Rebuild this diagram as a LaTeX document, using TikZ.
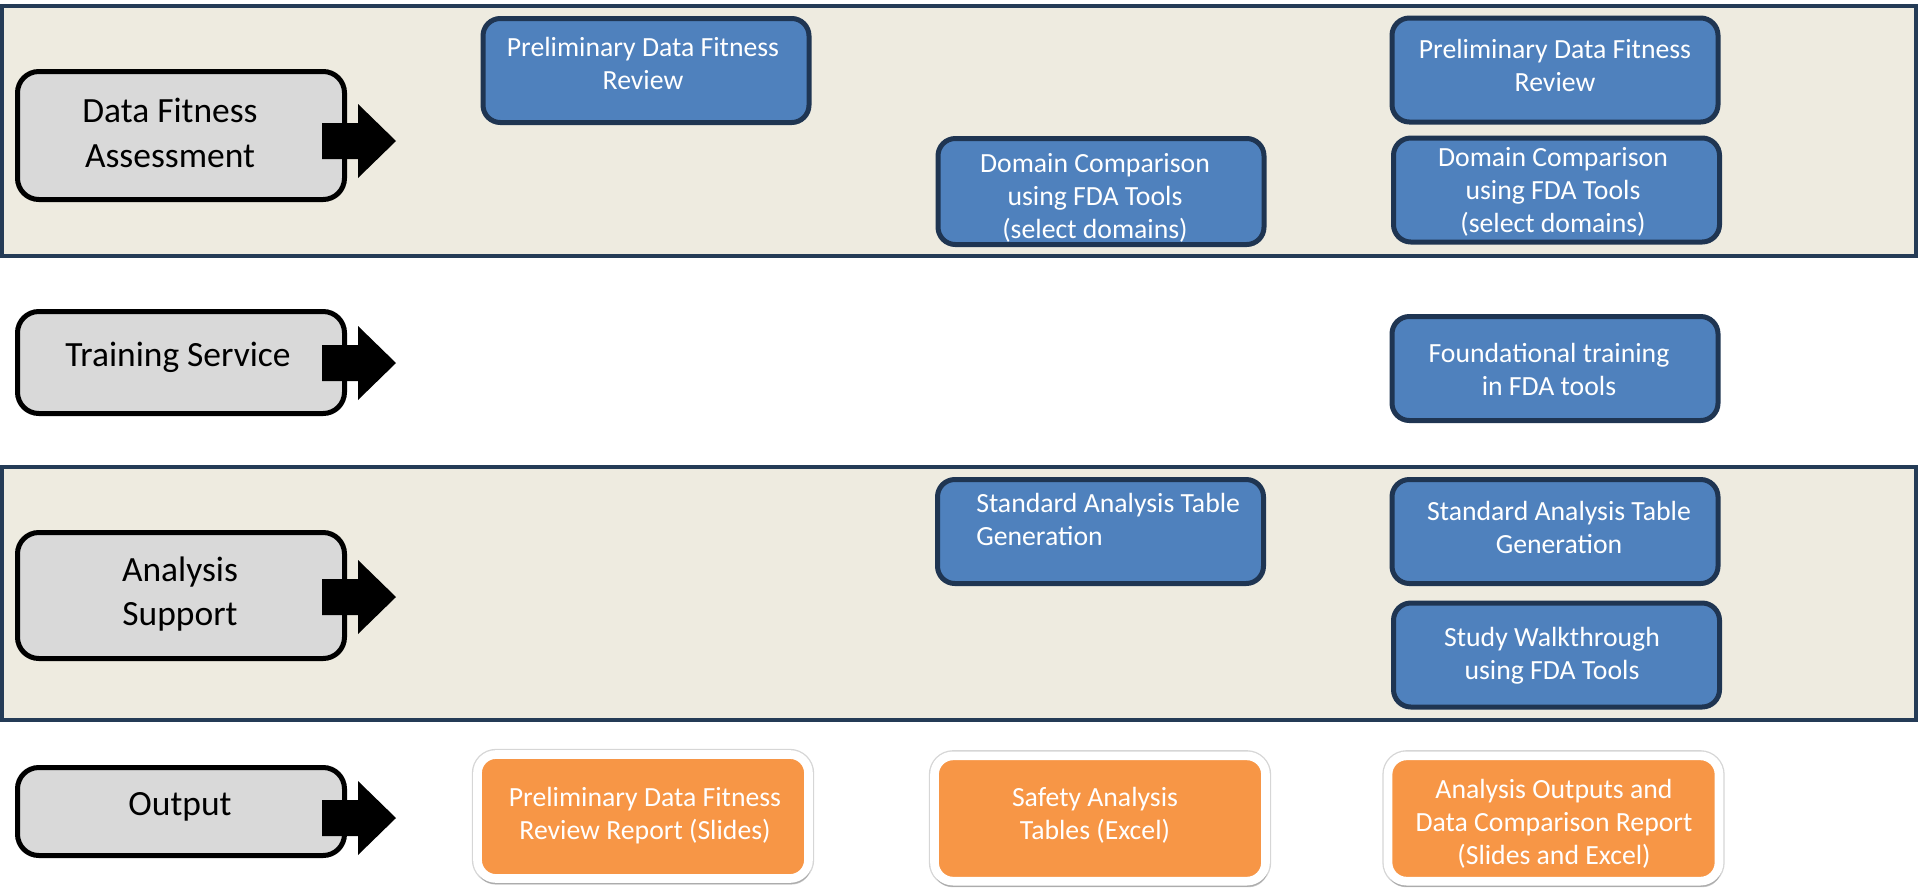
\documentclass[tikz,border=0pt]{standalone}
\usepackage{fontspec}
\setmainfont{Carlito}
\usetikzlibrary{shadows,calc}
\definecolor{bandfill}{HTML}{EEEBE0}
\definecolor{bandline}{HTML}{243B56}
\definecolor{bluefill}{HTML}{4F81BD}
\definecolor{blueline}{HTML}{1F3552}
\definecolor{orangefill}{HTML}{F79646}
\definecolor{grayfill}{HTML}{D9D9D9}
\begin{document}
\begin{tikzpicture}[x=0.75pt,y=-0.75pt,
 band/.style={draw=bandline, line width=3pt, fill=bandfill},
 catbox/.style={draw=black, line width=3.75pt, fill=grayfill, rounded corners=16pt, inner sep=0, minimum width=245.25pt},
 bluebox/.style={draw=blueline, line width=3.75pt, fill=bluefill, rounded corners=13pt, inner sep=0, minimum width=244.5pt, minimum height=78pt},
 outbox/.style={draw=white, line width=6.5pt, fill=orangefill, rounded corners=14pt, inner sep=0, minimum width=248.25pt, minimum height=94pt,
   preaction={draw=black!16, line width=8.5pt},
   drop shadow={shadow xshift=0.5pt, shadow yshift=-4pt, shadow scale=1.01, opacity=0.3, fill=black!70}},
 cattext/.style={font=\fontsize{26.6}{33.5}\selectfont, align=center, text=black, inner sep=0},
 boxtext/.style={font=\fontsize{20.8}{24.8}\selectfont, align=center, text=white, inner sep=0},
 catarrow/.style={fill=black},
]
\useasboundingbox (0,0) rectangle (1920,889);
% bands
\draw[band] (2,6) rectangle (1916,256);
\draw[band] (2,467) rectangle (1916,720);

% category boxes
\node[catbox, minimum height=96pt] (dfa) at (181,135.5) {};
\node[catbox, minimum height=76.5pt] (ts) at (181,362.5) {};
\node[catbox, minimum height=94.5pt] (as) at (181,595.5) {};
\node[catbox, minimum height=66pt] (out) at (181,811.5) {};

\node[cattext] (dfat) at (170,133) {Data Fitness\\Assessment};
\node[cattext] (tst) at (178,357) {Training Service};
\node[cattext] (ast) at (180,594) {Analysis\\Support};
\node[cattext] (outt) at (180,807) {Output};

% block arrows
\foreach \c in {141,363,597,818}{
  \fill[catarrow] (322,\c-18) -- (358,\c-18) -- (358,\c-37) -- (396,\c) -- (358,\c+37) -- (358,\c+18) -- (322,\c+18) -- cycle;
}

% blue boxes
\node[bluebox] (pdfr1) at (646,70.5) {};
\node[boxtext] (pdfr1t) at (643,63) {Preliminary Data Fitness\\Review};
\node[bluebox, minimum height=79.5pt] (dc1) at (1101,191.5) {};
\node[boxtext] (dc1t) at (1095,198) {Domain Comparison\\using FDA Tools\\(select domains)};
\node[bluebox] (pdfr2) at (1555,70) {};
\node[boxtext] (pdfr2t) at (1555,65.5) {Preliminary Data Fitness\\Review};
\node[bluebox] (dc2) at (1556.5,190) {};
\node[boxtext] (dc2t) at (1553,192) {Domain Comparison\\using FDA Tools\\(select domains)};
\node[bluebox] (fnd) at (1555,368.5) {};
\node[boxtext] (fndt) at (1549,369.5) {Foundational training\\in FDA tools};
\node[bluebox] (satg1) at (1100.5,531.5) {};
\node[boxtext, anchor=west, align=left] (satg1t) at (976,519.5) {Standard Analysis Table\\Generation};
\node[bluebox] (satg2) at (1555,531.5) {};
\node[boxtext] (satg2t) at (1559,527.5) {Standard Analysis Table\\Generation};
\node[bluebox] (swt) at (1556.5,655) {};
\node[boxtext] (swtt) at (1552,655.5) {Study Walkthrough\\using FDA Tools};

% output boxes
\node[outbox, minimum height=93pt] (o1) at (643,816.5) {};
\node[boxtext] (o1t) at (645,815.5) {Preliminary Data Fitness\\Review Report (Slides)};
\node[outbox] (o2) at (1100,818.5) {};
\node[boxtext] (o2t) at (1095,815.5) {Safety Analysis\\Tables (Excel)};
\node[outbox] (o3) at (1553.5,818.5) {};
\node[boxtext] (o3t) at (1554,824) {Analysis Outputs and\\Data Comparison Report\\(Slides and Excel)};
\end{tikzpicture}
\end{document}
